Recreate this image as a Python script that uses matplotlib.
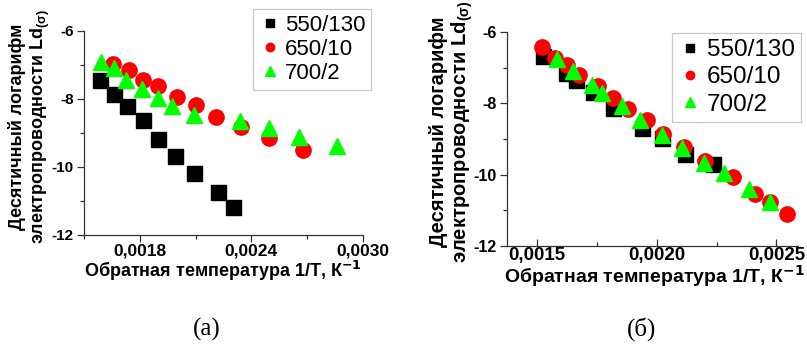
import matplotlib
matplotlib.use("Agg")
import matplotlib.pyplot as plt
from matplotlib.ticker import MultipleLocator, FuncFormatter

# ---------------- data ----------------
labels = ["550/130", "650/10", "700/2"]

# panel (a)
a_sq_x = [0.001584, 0.001659, 0.001731, 0.001818, 0.001899, 0.001989, 0.002092, 0.002218, 0.002299]
a_sq_y = [-7.44, -7.85, -8.21, -8.62, -9.18, -9.67, -10.17, -10.74, -11.19]
a_ci_x = [0.001656, 0.001741, 0.001816, 0.001899, 0.002002, 0.002104, 0.002212, 0.002344, 0.002494, 0.002677]
a_ci_y = [-6.98, -7.15, -7.44, -7.62, -7.93, -8.18, -8.54, -8.81, -9.16, -9.50]
a_tr_x = [0.001591, 0.001659, 0.001728, 0.001812, 0.001899, 0.001975, 0.002092, 0.002339, 0.002494, 0.002656, 0.002858]
a_tr_y = [-6.90, -7.10, -7.44, -7.71, -7.98, -8.21, -8.47, -8.64, -8.86, -9.11, -9.38]

# panel (б)
b_sq_x = [0.001524, 0.001621, 0.001663, 0.001733, 0.001819, 0.001938, 0.002022, 0.002120, 0.002235]
b_sq_y = [-6.67, -7.15, -7.34, -7.69, -8.14, -8.69, -8.97, -9.43, -9.71]
b_ci_x = [0.001520, 0.001575, 0.001624, 0.001677, 0.001757, 0.001817, 0.001882, 0.001959, 0.002028,
          0.002112, 0.002203, 0.002319, 0.002412, 0.002472, 0.002542]
b_ci_y = [-6.41, -6.73, -6.92, -7.20, -7.51, -7.85, -8.16, -8.47, -8.85,
          -9.22, -9.62, -10.07, -10.55, -10.78, -11.11]
b_tr_x = [0.001585, 0.001652, 0.001729, 0.001771, 0.001854, 0.001931, 0.002022, 0.002105, 0.002196,
          0.002280, 0.002384, 0.002472]
b_tr_y = [-6.76, -7.08, -7.48, -7.71, -8.08, -8.47, -8.90, -9.25, -9.67,
          -9.94, -10.41, -10.76]

xlabel = "Обратная температура 1/Т, К$^{\\mathbf{-1}}$"
ylabel = "Десятичный логарифм\nэлектропроводности Ld$\\mathregular{_{(σ)}}$"
captions = ["(а)", "(б)"]

# ---------------- figure ----------------
plt.rcParams['font.family'] = ['Liberation Sans', 'DejaVu Sans']
plt.rcParams['font.weight'] = 'bold'
W, H = 807, 347
fig = plt.figure(figsize=(W / 100, H / 100), dpi=100)


def px(x, y):
    return x / W, 1 - y / H


def comma_fmt(dec):
    return FuncFormatter(lambda v, p: (f"{v:.{dec}f}").replace(".", ","))


def style_axes(ax, xfs, yfs, xdir, xpad):
    for s in ("top", "right"):
        ax.spines[s].set_visible(False)
    for s in ("left", "bottom"):
        ax.spines[s].set_color("#333333")
        ax.spines[s].set_linewidth(0.9)
    ax.tick_params(axis="y", which="major", direction="out", length=5, width=0.9, color="#333333")
    ax.tick_params(axis="y", which="minor", direction="out", length=3, width=0.9, color="#333333")
    ax.tick_params(axis="x", which="major", direction=xdir, length=5, width=0.9, color="#333333")
    ax.tick_params(axis="x", which="minor", direction=xdir, length=3, width=0.9, color="#333333")
    ax.tick_params(axis="x", labelsize=xfs, pad=xpad)
    ax.tick_params(axis="y", labelsize=yfs, pad=2.5)


def draw(ax, sx, sy, cx, cy, tx, ty):
    ax.plot(sx, sy, ls="none", marker="s", ms=10.8, color="black", label=labels[0], clip_on=False)
    ax.plot(cx, cy, ls="none", marker="o", ms=11, color="#ff0000", label=labels[1], clip_on=False)
    ax.plot(tx, ty, ls="none", marker="^", ms=12, color="#00ff00", label=labels[2], clip_on=False)


# panel a
l, b = px(84, 235)
r, t = px(363, 31)
ax1 = fig.add_axes([l, b, r - l, t - b])
draw(ax1, a_sq_x, a_sq_y, a_ci_x, a_ci_y, a_tr_x, a_tr_y)
ax1.set_xlim(0.0015, 0.0030)
ax1.set_ylim(-12, -6)
ax1.xaxis.set_major_locator(MultipleLocator(0.0006))
ax1.xaxis.set_minor_locator(MultipleLocator(0.0003))
ax1.set_xticks([0.0018, 0.0024, 0.0030])
ax1.xaxis.set_major_formatter(comma_fmt(4))
ax1.yaxis.set_major_locator(MultipleLocator(2))
ax1.yaxis.set_minor_locator(MultipleLocator(1))
ax1.yaxis.set_major_formatter(FuncFormatter(lambda v, p: f"{int(v)}"))
style_axes(ax1, 12.5, 11, "out", 1.2)

# panel b
l, b = px(507, 246)
r, t = px(798, 32)
ax2 = fig.add_axes([l, b, r - l, t - b])
draw(ax2, b_sq_x, b_sq_y, b_ci_x, b_ci_y, b_tr_x, b_tr_y)
ax2.set_xlim(0.001375, 0.00259)
ax2.set_ylim(-12, -6)
ax2.xaxis.set_major_locator(MultipleLocator(0.0005))
ax2.xaxis.set_minor_locator(MultipleLocator(0.00025))
ax2.xaxis.set_major_formatter(comma_fmt(4))
ax2.yaxis.set_major_locator(MultipleLocator(2))
ax2.yaxis.set_minor_locator(MultipleLocator(1))
ax2.yaxis.set_major_formatter(FuncFormatter(lambda v, p: f"{int(v)}"))
style_axes(ax2, 13.5, 11.5, "in", 0.5)

# legends
for ax, (lx, ly), fs, ls in ((ax1, (253, 9), 16, 0.15), (ax2, (672, 33), 17.5, 0.22)):
    x0, y0 = px(lx, ly)
    leg = ax.legend(loc="upper left", bbox_to_anchor=(x0, y0), bbox_transform=fig.transFigure,
                    prop={"size": fs, "weight": "normal"}, markerscale=0.55, frameon=True,
                    fancybox=False, handletextpad=0.2, handlelength=1.0, borderpad=0.25,
                    labelspacing=ls, borderaxespad=0)
    leg.get_frame().set_edgecolor("#bbbbbb")
    leg.get_frame().set_linewidth(0.9)

# axis labels
fig.text(*px(223, 271), xlabel, ha="center", va="center", fontsize=13, fontweight="bold")
fig.text(*px(654, 276), xlabel, ha="center", va="center", fontsize=14, fontweight="bold")
fig.text(*px(30, 127), ylabel, rotation=90, ha="center", va="center", fontsize=13,
         fontweight="bold", multialignment="center", linespacing=1.15)
fig.text(*px(452, 132), ylabel, rotation=90, ha="center", va="center", fontsize=14.5,
         fontweight="bold", multialignment="center", linespacing=1.1)

# captions
fig.text(*px(207, 329), captions[0], ha="center", va="center", fontsize=18, fontweight="normal",
         family=["Liberation Serif", "DejaVu Serif"])
fig.text(*px(642, 329), captions[1], ha="center", va="center", fontsize=18, fontweight="normal",
         family=["Liberation Serif", "DejaVu Serif"])

fig.savefig("out.png", dpi=100)
